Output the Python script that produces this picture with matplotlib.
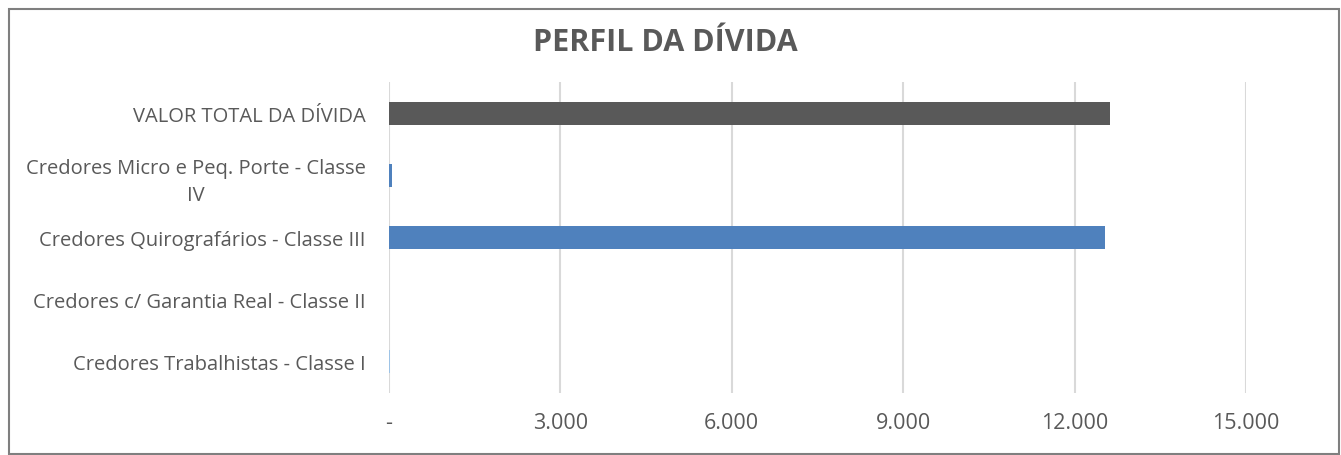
import matplotlib
matplotlib.use("Agg")
import matplotlib.pyplot as plt
from matplotlib.patches import Rectangle

categories = [
    "Credores Trabalhistas - Classe I",
    "Credores c/ Garantia Real - Classe II",
    "Credores Quirografários - Classe III",
    "Credores Micro e Peq. Porte - Classe\nIV",
    "VALOR TOTAL DA DÍVIDA",
]
values = [20, 0, 12540, 60, 12620]
bar_colors = ["#9DC3E6", "#4F81BD", "#4F81BD", "#4F81BD", "#595959"]
xticks = [0, 3000, 6000, 9000, 12000, 15000]
xtick_labels = ["-", "3.000", "6.000", "9.000", "12.000", "15.000"]

plt.rcParams['font.family'] = ['Open Sans', 'DejaVu Sans']

W, H = 1341, 456
fig = plt.figure(figsize=(W / 100, H / 100), dpi=100)
fig.patch.set_facecolor("white")

# outer border
fig.patches.append(Rectangle((9 / W, 1 - 455 / H), (1339 - 9) / W, (455 - 10) / H,
                             transform=fig.transFigure, fill=False,
                             edgecolor="#7F7F7F", linewidth=1.5))

left, right, top, bottom = 389, 1246, 83, 394
ax = fig.add_axes([left / W, 1 - bottom / H, (right - left) / W, (bottom - top) / H])

y = list(range(len(categories)))
ax.barh(y, values, height=0.37, color=bar_colors, zorder=3)
ax.set_xlim(0, 15000)
ax.set_ylim(-0.5, len(categories) - 0.5)

ax.set_xticks(xticks)
ax.set_xticklabels(xtick_labels, fontsize=15.5, color="#595959")
ax.set_yticks(y)
ax.set_yticklabels(categories, fontsize=14.5, color="#595959",
                   multialignment="center", linespacing=1.45)
ax.tick_params(axis="both", length=0)
ax.tick_params(axis="x", pad=14)
ax.tick_params(axis="y", pad=17)

ax.grid(axis="x", color="#D9D9D9", linewidth=1.5, zorder=0)
for s in ax.spines.values():
    s.set_visible(False)

fig.text(665 / W, 1 - 43 / H, "PERFIL DA DÍVIDA", ha="center", va="center",
         fontsize=22, fontweight="bold", color="#595959")

fig.savefig("out.png", dpi=100)
